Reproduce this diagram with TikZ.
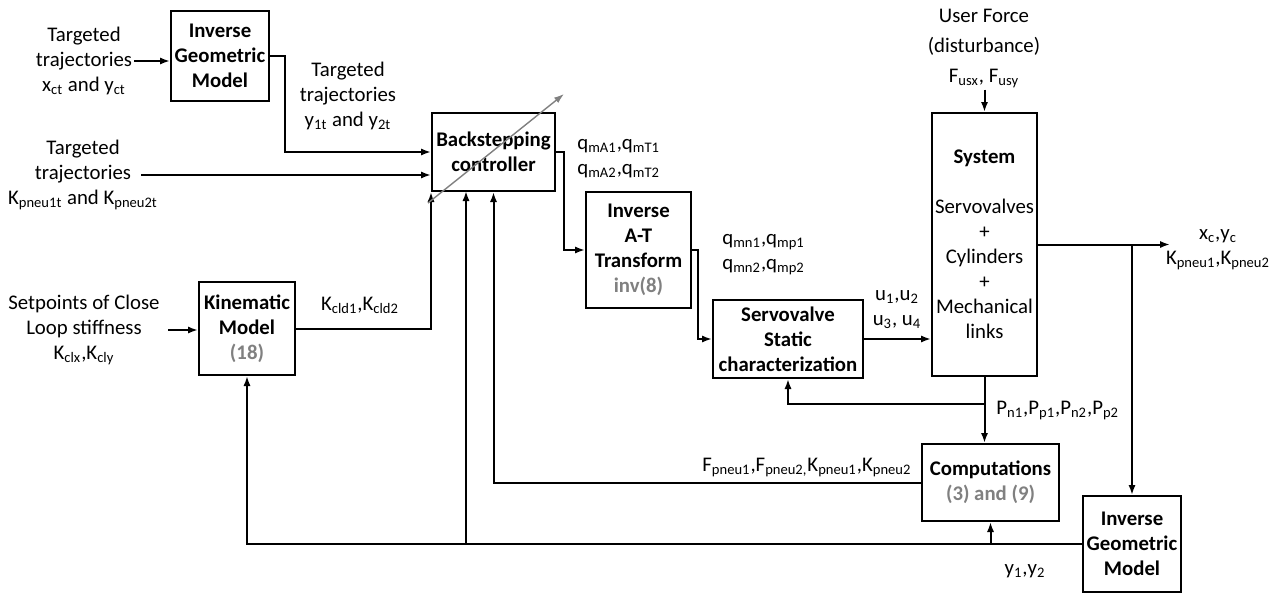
\documentclass[tikz,border=0pt]{standalone}
\usepackage{fontspec}
\setmainfont{Carlito}
\usepackage{tikz}
\usetikzlibrary{calc}
\usetikzlibrary{arrows.meta}
\newcommand{\sbt}[1]{\textsubscript{#1}}
\definecolor{eqgray}{RGB}{128,128,128}
\begin{document}
\begin{tikzpicture}[x=0.5pt,y=-0.5pt,
    font=\fontsize{10.4}{12.5}\selectfont,
    blockn/.style={draw=black,line width=1pt,align=center,inner sep=0pt,
      font=\fontsize{10.4}{12.5}\selectfont\bfseries},
    textn/.style={align=center,inner sep=1pt},
    arrn/.style={line width=1pt,-{Latex[length=5pt,width=3.6pt]}},
    diagn/.style={eqgray,line width=0.7pt,-{Latex[length=5pt,width=3.4pt]}}]
  \useasboundingbox (0,0) rectangle (1283,595);
  \node[blockn,minimum width=49pt,minimum height=45pt] (igmt) at (220,56) {Inverse\\Geometric\\Model};
  \node[blockn,minimum width=61.5pt,minimum height=39pt] (back) at (493.5,152) {Backstepping\\controller};
  \node[blockn,minimum width=52.5pt,minimum height=58pt] (iat) at (638.5,250) {Inverse\\A-T\\Transform\\\textcolor{eqgray}{inv(8)}};
  \node[blockn,minimum width=48pt,minimum height=46.5pt] (kin) at (247,328.5) {Kinematic\\Model\\\textcolor{eqgray}{(18)}};
  \node[blockn,minimum width=75pt,minimum height=39pt] (serv) at (788,339) {Servovalve\\Static\\characterization};
  \node[blockn,minimum width=52.5pt,minimum height=131.5pt,font=\fontsize{10.4}{12.5}\selectfont] (sys) at (984.5,244.5)
    {\textbf{System}\\[12.5pt]Servovalves\\+\\Cylinders\\+\\Mechanical\\links};
  \node[blockn,minimum width=68.5pt,minimum height=38.5pt] (comp) at (990.5,482.5) {Computations\\\textcolor{eqgray}{(3) and (9)}};
  \node[blockn,minimum width=49pt,minimum height=48pt] (igmb) at (1132,544) {Inverse\\Geometric\\Model};

  \node[textn] (tin1) at (84,61) {Targeted\\trajectories\\x\sbt{ct} and y\sbt{ct}};
  \node[textn] (tin2) at (348,96) {Targeted\\trajectories\\y\sbt{1t} and y\sbt{2t}};
  \node[textn] (tin3) at (83,175) {Targeted\\trajectories\\K\sbt{pneu1t} and K\sbt{pneu2t}};
  \node[textn] (tin4) at (84,330) {Setpoints of Close\\Loop stiffness\\K\sbt{clx},K\sbt{cly}};
  \node[textn,font=\fontsize{10.4}{15}\selectfont] (tuser) at (984,48) {User Force\\(disturbance)\\F\sbt{usx}, F\sbt{usy}};
  \node[textn,align=left,anchor=west] (tqm) at (575,158.5) {q\sbt{mA1},q\sbt{mT1}\\q\sbt{mA2},q\sbt{mT2}};
  \node[textn,align=left,anchor=west] (tqn) at (720,254.5) {q\sbt{mn1},q\sbt{mp1}\\q\sbt{mn2},q\sbt{mp2}};
  \node[textn] (tu) at (897,309.5) {u\sbt{1},u\sbt{2}\\u\sbt{3}, u\sbt{4}};
  \node[textn] (tkcld) at (360,305) {K\sbt{cld1},K\sbt{cld2}};
  \node[textn] (tout) at (1218,249.5) {x\sbt{c},y\sbt{c}\\K\sbt{pneu1},K\sbt{pneu2}};
  \node[textn,anchor=west] (tp) at (994,410) {P\sbt{n1},P\sbt{p1},P\sbt{n2},P\sbt{p2}};
  \node[textn,anchor=west] (tf) at (700,467) {F\sbt{pneu1},F\sbt{pneu2,}K\sbt{pneu1},K\sbt{pneu2}};
  \node[textn] (ty) at (1025,571) {y\sbt{1},y\sbt{2}};

  \coordinate (c1) at (285,152);
  \coordinate (a3) at (141,175);
  \coordinate (c2) at (564,250);
  \coordinate (c3) at (698,339);
  \coordinate (xout) at (1170,246);
  \coordinate (pj) at (987,404);
  \coordinate (bk2) at (466,191);
  \coordinate (gs) at (428,203);
  \coordinate (ge) at (564,94);

  \draw[arrn] (tin1.east) -- (tin1.east -| igmt.west);
  \draw[arrn] (igmt.east) -| (c1) -- (back.west);
  \draw[arrn] (a3) -- (a3 -| back.west);
  \draw[arrn] ([xshift=3pt]tin4.east) -- (tin4.east -| kin.west);
  \draw[arrn] (back.east) -| (c2) -- (iat.west);
  \draw[arrn] (iat.east) -| (c3) -- (serv.west);
  \draw[arrn] (serv.east) -- (serv.east -| sys.west);
  \draw[arrn] (sys.north |- tuser.south) -- (sys.north);
  \draw[arrn] (sys.east) -- (sys.east -| xout);
  \draw[arrn] (sys.east -| igmb.north) -- (igmb.north);
  \draw[arrn] (sys.south) -- (sys.south |- comp.north);
  \draw[arrn] (sys.south |- pj) -| (serv.south);
  \draw[arrn] (comp.west) -| (back.south);
  \draw[arrn] (kin.east) -| (back.south west);
  \draw[arrn] (igmb.west) -| (kin.south);
  \draw[arrn] (igmb.west -| bk2) -- (bk2);
  \draw[arrn] (igmb.west -| comp.south) -- (comp.south);
  \draw[diagn] (gs) -- (ge);
\end{tikzpicture}
\end{document}
